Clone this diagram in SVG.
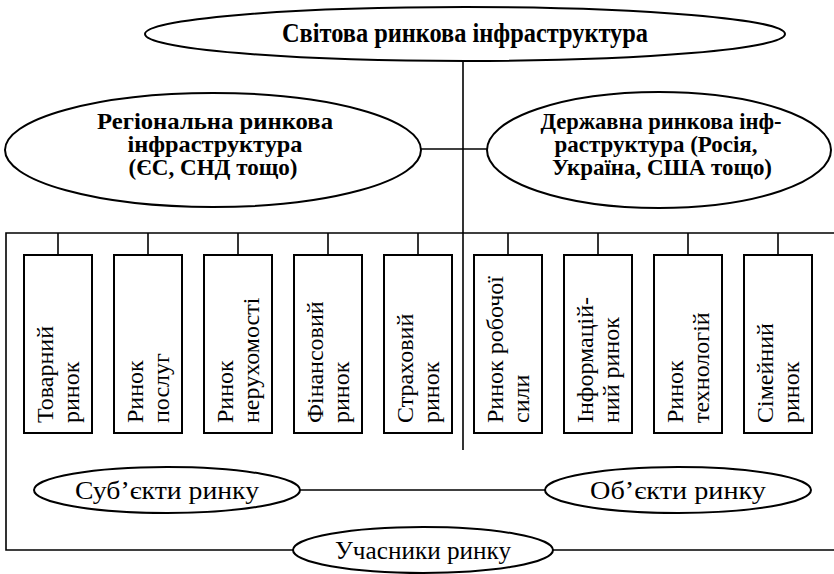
<svg xmlns="http://www.w3.org/2000/svg" width="834" height="574" viewBox="0 0 834 574">
<style>
.sh{fill:#fff;stroke:#000;stroke-width:2}
.ln{fill:none;stroke:#000;stroke-width:1.6}
.tb{font-family:"Liberation Serif","Times New Roman",serif;font-weight:bold;fill:#000;text-anchor:middle;font-size:23px}
.tr{font-family:"Liberation Serif","Times New Roman",serif;fill:#000}
.bx{font-size:24px}
.el{font-size:26px;text-anchor:middle}
</style>
<rect width="834" height="574" fill="#fff"/>
<g id="connectors">
<line class="ln" x1="463" y1="60" x2="463" y2="450"/>
<line class="ln" x1="420" y1="149" x2="488" y2="149"/>
<polyline class="ln" points="834,233 6,233 6,550 834,550"/>
<line class="ln" x1="58" y1="233" x2="58" y2="255"/>
<line class="ln" x1="148" y1="233" x2="148" y2="255"/>
<line class="ln" x1="238" y1="233" x2="238" y2="255"/>
<line class="ln" x1="328" y1="233" x2="328" y2="255"/>
<line class="ln" x1="418" y1="233" x2="418" y2="255"/>
<line class="ln" x1="508" y1="233" x2="508" y2="255"/>
<line class="ln" x1="598" y1="233" x2="598" y2="255"/>
<line class="ln" x1="688" y1="233" x2="688" y2="255"/>
<line class="ln" x1="778" y1="233" x2="778" y2="255"/>
<line class="ln" x1="300" y1="490" x2="545" y2="490"/>
</g>
<g id="world">
<ellipse class="sh" cx="465" cy="34" rx="320" ry="27"/>
<text class="tb" x="465" y="42" style="font-size:27px" textLength="366" lengthAdjust="spacingAndGlyphs">Світова ринкова інфраструктура</text>
</g>
<g id="regional">
<ellipse class="sh" cx="213" cy="150" rx="208" ry="57"/>
<text class="tb" x="215" y="129" textLength="236" lengthAdjust="spacingAndGlyphs">Регіональна ринкова</text>
<text class="tb" x="215" y="152" textLength="175" lengthAdjust="spacingAndGlyphs">інфраструктура</text>
<text class="tb" x="213" y="175" textLength="169" lengthAdjust="spacingAndGlyphs">(ЄС, СНД тощо)</text>
</g>
<g id="state">
<ellipse class="sh" cx="659" cy="150" rx="172" ry="58"/>
<text class="tb" x="661" y="129" textLength="241" lengthAdjust="spacingAndGlyphs">Державна ринкова інф-</text>
<text class="tb" x="656" y="152" textLength="203" lengthAdjust="spacingAndGlyphs">раструктура (Росія,</text>
<text class="tb" x="662" y="175" textLength="220" lengthAdjust="spacingAndGlyphs">Україна, США тощо)</text>
</g>
<g id="m1"><rect class="sh" x="24" y="255" width="68" height="178"/><text class="tr bx" transform="rotate(-90 53 423)" x="53" y="423">Товарний</text><text class="tr bx" transform="rotate(-90 79 423)" x="79" y="423">ринок</text></g>
<g id="m2"><rect class="sh" x="114" y="255" width="68" height="178"/><text class="tr bx" transform="rotate(-90 143 423)" x="143" y="423">Ринок</text><text class="tr bx" transform="rotate(-90 169 423)" x="169" y="423">послуг</text></g>
<g id="m3"><rect class="sh" x="204" y="255" width="68" height="178"/><text class="tr bx" transform="rotate(-90 233 423)" x="233" y="423">Ринок</text><text class="tr bx" transform="rotate(-90 259 423)" x="259" y="423">нерухомості</text></g>
<g id="m4"><rect class="sh" x="294" y="255" width="68" height="178"/><text class="tr bx" transform="rotate(-90 323 423)" x="323" y="423">Фінансовий</text><text class="tr bx" transform="rotate(-90 349 423)" x="349" y="423">ринок</text></g>
<g id="m5"><rect class="sh" x="384" y="255" width="68" height="178"/><text class="tr bx" transform="rotate(-90 413 423)" x="413" y="423">Страховий</text><text class="tr bx" transform="rotate(-90 439 423)" x="439" y="423">ринок</text></g>
<g id="m6"><rect class="sh" x="474" y="255" width="68" height="178"/><text class="tr bx" transform="rotate(-90 503 423)" x="503" y="423">Ринок робочої</text><text class="tr bx" transform="rotate(-90 529 423)" x="529" y="423">сили</text></g>
<g id="m7"><rect class="sh" x="564" y="255" width="68" height="178"/><text class="tr bx" transform="rotate(-90 593 423)" x="593" y="423">Інформацій-</text><text class="tr bx" transform="rotate(-90 619 423)" x="619" y="423">ний ринок</text></g>
<g id="m8"><rect class="sh" x="654" y="255" width="68" height="178"/><text class="tr bx" transform="rotate(-90 683 423)" x="683" y="423">Ринок</text><text class="tr bx" transform="rotate(-90 709 423)" x="709" y="423">технологій</text></g>
<g id="m9"><rect class="sh" x="744" y="255" width="68" height="178"/><text class="tr bx" transform="rotate(-90 773 423)" x="773" y="423">Сімейний</text><text class="tr bx" transform="rotate(-90 799 423)" x="799" y="423">ринок</text></g>
<g id="subjects">
<ellipse class="sh" cx="167" cy="490" rx="133" ry="23"/>
<text class="tr el" x="167" y="499" textLength="184" lengthAdjust="spacingAndGlyphs">Суб’єкти ринку</text>
</g>
<g id="objects">
<ellipse class="sh" cx="678" cy="490" rx="133" ry="23"/>
<text class="tr el" x="678" y="499" textLength="176" lengthAdjust="spacingAndGlyphs">Об’єкти ринку</text>
</g>
<g id="participants">
<ellipse class="sh" cx="423" cy="550" rx="130" ry="23"/>
<text class="tr el" x="423" y="559" textLength="176" lengthAdjust="spacingAndGlyphs">Учасники ринку</text>
</g>
</svg>
